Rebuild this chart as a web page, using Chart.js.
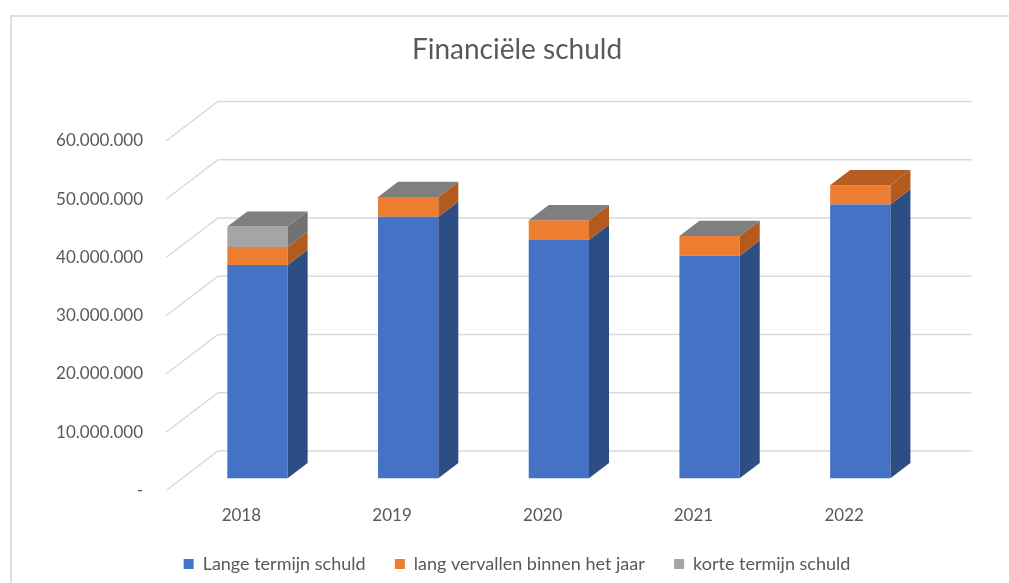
<!DOCTYPE html>
<html>
<head>
    <title>Financiële schuld</title>
    <style>
        body {
            margin: 0;
            padding: 0;
            background-color: #fff;
            overflow: hidden;
        }
        .frame {
            position: absolute;
            left: 10px;
            top: 15px;
            width: 1020px;
            height: 600px;
            border: 2px solid #dedede;
        }
        canvas {
            position: absolute;
            left: 0;
            top: 0;
        }
    </style>
</head>
<body>
    <div class="frame"></div>
    <canvas id="chart" width="1009" height="583"></canvas>

    <script src="https://cdn.jsdelivr.net/npm/chart.js"></script>
    <script>
        // data
        const years = ['2018', '2019', '2020', '2021', '2022'];
        const langeTermijn = [36600000, 44900000, 40900000, 38200000, 47000000];
        const langVervallen = [3100000, 3400000, 3400000, 3400000, 3300000];
        const korteTermijn = [3500000, 0, 0, 0, null];
        const yTicks = [0, 10000000, 20000000, 30000000, 40000000, 50000000, 60000000];

        const fontName = 'Lato, "Open Sans", sans-serif';
        const textColor = '#595959';

        // fake 3d: depth of the floor and where the bars sit in it
        const DX = 52, DY = -39.5;
        const BAR_T = 0.31, BAR_D = 0.385;

        const faceColors = [
            { side: '#2d4d85', top: '#3a62a8' },
            { side: '#b35a1f', top: '#b65d22' },
            { side: '#727272', top: '#7f7f7f' }
        ];

        function dotted(v) {
            return String(v).replace(/\B(?=(\d{3})+(?!\d))/g, '.');
        }

        function quad(ctx, pts, color) {
            ctx.beginPath();
            ctx.moveTo(pts[0][0], pts[0][1]);
            for (let i = 1; i < pts.length; i++) ctx.lineTo(pts[i][0], pts[i][1]);
            ctx.closePath();
            ctx.fillStyle = color;
            ctx.fill();
        }

        const fake3d = {
            id: 'fake3d',
            beforeDatasetsDraw(chart) {
                const ctx = chart.ctx;
                const area = chart.chartArea;
                const y = chart.scales.y;
                ctx.save();
                ctx.strokeStyle = '#d9d9d9';
                ctx.lineWidth = 1.5;
                ctx.beginPath();
                y.ticks.forEach(t => {
                    const py = y.getPixelForValue(t.value);
                    ctx.moveTo(area.left, py);
                    ctx.lineTo(area.left + DX, py + DY);
                    ctx.lineTo(area.right + DX, py + DY);
                });
                ctx.stroke();
                ctx.restore();

                ctx.save();
                ctx.translate(DX * BAR_T, DY * BAR_T);
            },
            afterDatasetsDraw(chart) {
                const ctx = chart.ctx;
                const bdx = DX * BAR_D, bdy = DY * BAR_D;
                const sets = chart.data.datasets;
                sets.forEach((ds, i) => {
                    const meta = chart.getDatasetMeta(i);
                    meta.data.forEach((el, j) => {
                        if (ds.data[j] === null) return;
                        const p = el.getProps(['x', 'y', 'base', 'width'], true);
                        const l = p.x - p.width / 2, r = p.x + p.width / 2;
                        const top = Math.min(p.y, p.base), bot = Math.max(p.y, p.base);
                        if (bot - top > 0) {
                            quad(ctx, [[r, top], [r + bdx, top + bdy], [r + bdx, bot + bdy], [r, bot]], faceColors[i].side);
                        }
                        // top face only on the highest segment of the stack
                        let last = -1;
                        sets.forEach((s, k) => { if (s.data[j] !== null) last = k; });
                        if (last === i) {
                            quad(ctx, [[l, top], [l + bdx, top + bdy], [r + bdx, top + bdy], [r, top]], faceColors[i].top);
                        }
                    });
                });
                ctx.restore();
            }
        };

        const ctx = document.getElementById('chart').getContext('2d');
        new Chart(ctx, {
            type: 'bar',
            data: {
                labels: years,
                datasets: [
                    { label: 'Lange termijn schuld', data: langeTermijn, backgroundColor: '#4472c4', yAxisID: 'y' },
                    { label: 'lang vervallen binnen het jaar', data: langVervallen, backgroundColor: '#ed7d31', yAxisID: 'y' },
                    { label: 'korte termijn schuld', data: korteTermijn, backgroundColor: '#a5a5a5', yAxisID: 'y' }
                ]
            },
            options: {
                responsive: false,
                animation: false,
                datasets: {
                    bar: { barPercentage: 0.4, categoryPercentage: 1, clip: false }
                },
                layout: {
                    padding: { left: 25, right: 0, top: 33.2, bottom: 0 }
                },
                plugins: {
                    title: {
                        display: true,
                        text: 'Financiële schuld',
                        color: textColor,
                        font: { family: fontName, size: 28, weight: 'normal', lineHeight: 1.2 },
                        padding: { top: 0, bottom: 74.2 }
                    },
                    legend: {
                        position: 'bottom',
                        labels: {
                            color: textColor,
                            font: { family: fontName, size: 18, lineHeight: 1.0 },
                            boxWidth: 10,
                            boxHeight: 10,
                            padding: 29.3
                        }
                    },
                    tooltip: { enabled: false }
                },
                scales: {
                    x: {
                        stacked: true,
                        afterFit(scale) { scale.height = 35.2; },
                        grid: { display: false, drawTicks: false },
                        border: { display: false },
                        ticks: {
                            color: textColor,
                            font: { family: fontName, size: 17, lineHeight: 1.2 },
                            padding: 14.6
                        }
                    },
                    y: {
                        stacked: true,
                        min: 0,
                        max: 60000000,
                        afterFit(scale) { scale.width = 141; },
                        afterBuildTicks(scale) { scale.ticks = yTicks.map(v => ({ value: v })); },
                        grid: { display: false, drawTicks: false },
                        border: { display: false },
                        ticks: {
                            color: textColor,
                            font: { family: fontName, size: 17 },
                            padding: 23,
                            callback: v => v === 0 ? '-' : dotted(v)
                        }
                    },
                    // empty axis on the right, only to keep room for the back wall
                    yR: {
                        type: 'linear',
                        position: 'right',
                        afterFit(scale) { scale.width = 89.5; },
                        grid: { display: false, drawTicks: false },
                        border: { display: false },
                        ticks: { display: false }
                    }
                }
            },
            plugins: [fake3d]
        });
    </script>
</body>
</html>
